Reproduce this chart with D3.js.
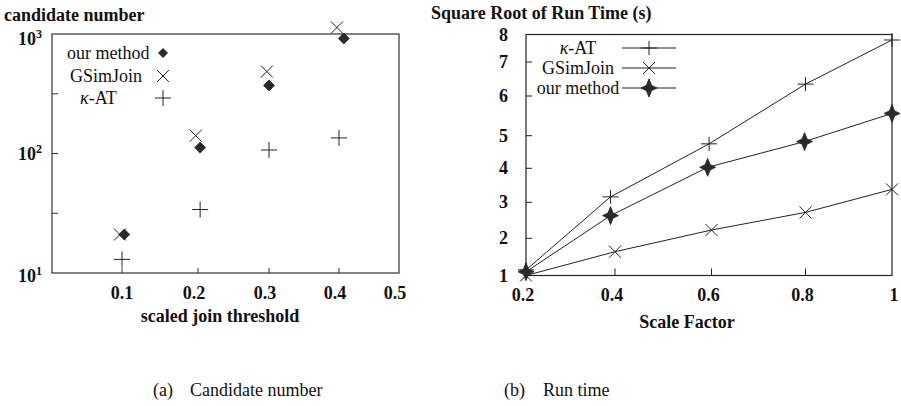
<!doctype html>
<html>
  <head>
    <meta charset="utf-8">
    <script src="https://cdn.jsdelivr.net/npm/d3@7"></script>
    <style>
      body { margin: 0; background: #fff; }
      text { font-family: "Liberation Serif", "Times New Roman", Times, serif; fill: #111; }
      .bold { font-weight: bold; }
    </style>
  </head>
  <body>
    <svg id="fig" width="901" height="406"></svg>

    <script>
      // (a) candidate number, log y axis
      var thresholdTicks = [0.1, 0.2, 0.3, 0.4, 0.5];
      var candTicks = [10, 100, 1000];
      var candMinorTicks = [31.6, 316];
      var ourX   = [0.103, 0.203, 0.3, 0.408];
      var ourCand  = [21, 112, 371, 917];
      var gsimX  = [0.097, 0.197, 0.297, 0.397];
      var gsimCand = [21, 141, 485, 1133];
      var katX   = [0.1, 0.203, 0.3, 0.4];
      var katCand  = [13, 34, 107, 135];

      // (b) run time
      var scaleFactors = [0.2, 0.4, 0.6, 0.8, 1];
      var timeTicks = [1, 2, 3, 4, 5, 6, 7, 8];
      var katTimeX  = [0.2, 0.39, 0.595, 0.8, 1];
      var katTime   = [1.15, 3.16, 4.75, 6.35, 7.8];
      var gsimTimeX = [0.2, 0.4, 0.6, 0.8, 1];
      var gsimTime  = [1.0, 1.64, 2.23, 2.72, 3.38];
      var ourTimeX  = [0.2, 0.39, 0.592, 0.798, 1];
      var ourTime   = [1.1, 2.63, 4.03, 4.82, 5.56];

      var svg = d3.select("#fig");

      // marker shapes
      var plusPath = function(w, h) {
        return "M" + (-w) + ",0H" + w + "M0," + (-h) + "V" + h;
      };
      var crossPath = function(r) {
        return "M" + (-r) + "," + (-r) + "L" + r + "," + r + "M" + (-r) + "," + r + "L" + r + "," + (-r);
      };
      var diamondPath = function(r) {
        return "M0," + (-r) + "L" + r + ",0L0," + r + "L" + (-r) + ",0Z";
      };
      var starPath = function(w, h, c) {
        return "M0," + (-h) + "L" + c + "," + (-c) + "L" + w + ",0L" + c + "," + c +
          "L0," + h + "L" + (-c) + "," + c + "L" + (-w) + ",0L" + (-c) + "," + (-c) + "Z";
      };

      function drawMarkers(g, xs, ys, x, y, d, filled) {
        g.selectAll(null)
          .data(ys)
          .enter()
          .append("path")
            .attr("transform", function(v, i) { return "translate(" + x(xs[i]) + "," + y(v) + ")"; })
            .attr("d", d)
            .attr("fill", filled ? "#2a2a2a" : "none")
            .attr("stroke", filled ? "#2a2a2a" : "#222")
            .attr("stroke-width", filled ? 0.8 : 1);
      }

      // ---------- chart (a) ----------
      var xA = d3.scaleLinear()
        .domain([0, 0.1, 0.2, 0.3, 0.4, 0.5])
        .range([52, 122, 198, 269, 339, 399]);
      var yA = d3.scaleLog().domain([10, 1000]).range([273, 34]);

      var gA = svg.append("g");

      gA.append("rect")
        .attr("x", xA(0)).attr("y", yA(1000))
        .attr("width", xA(0.5) - xA(0)).attr("height", yA(10) - yA(1000))
        .attr("fill", "none").attr("stroke", "#333").attr("stroke-width", 1.2);

      // inward ticks
      gA.selectAll(".yt")
        .data(candTicks.slice(1, 2).concat(candMinorTicks))
        .enter().append("line")
          .attr("x1", xA(0)).attr("x2", xA(0) + 6)
          .attr("y1", function(d) { return yA(d); }).attr("y2", function(d) { return yA(d); })
          .attr("stroke", "#333");
      gA.selectAll(".xt")
        .data(thresholdTicks.slice(0, 4))
        .enter().append("line")
          .attr("x1", function(d) { return xA(d); }).attr("x2", function(d) { return xA(d); })
          .attr("y1", yA(10)).attr("y2", yA(10) - 5)
          .attr("stroke", "#333");

      // y tick labels 10^n (top one pushed down under the title)
      var labDrop = [9, 6, 11];
      var yLab = gA.selectAll(".yl")
        .data(candTicks)
        .enter().append("text")
          .attr("class", "bold")
          .attr("text-anchor", "end")
          .attr("x", 42)
          .attr("y", function(d, i) { return yA(d) + labDrop[i]; })
          .style("font-size", "18px");
      yLab.append("tspan").text("10");
      yLab.append("tspan")
        .attr("dy", -7)
        .style("font-size", "12px")
        .text(function(d) { return String(Math.round(Math.log10(d))); });

      gA.selectAll(".xl")
        .data(thresholdTicks)
        .enter().append("text")
          .attr("class", "bold")
          .attr("text-anchor", "middle")
          .attr("x", function(d, i) { return xA(d) - (i === 0 ? 0 : 4); })
          .attr("y", 299)
          .style("font-size", "18px")
          .text(function(d) { return d3.format(".1f")(d); });

      gA.append("text").attr("class", "bold")
        .attr("x", 4).attr("y", 21).style("font-size", "18px")
        .text("candidate number");
      gA.append("text").attr("class", "bold")
        .attr("x", 220).attr("y", 322).attr("text-anchor", "middle").style("font-size", "18px")
        .text("scaled join threshold");

      drawMarkers(gA, gsimX, gsimCand, xA, yA, crossPath(6), false);
      drawMarkers(gA, katX, katCand, xA, yA, plusPath(8, 8), false);
      drawMarkers(gA, ourX, ourCand, xA, yA, diamondPath(5.5), true);

      // legend (a)
      var legA = [
        {label: "our method", x: 67, y: 53, d: diamondPath(4.5), filled: true},
        {label: "GSimJoin", x: 70, y: 76, d: crossPath(6), filled: false},
        {label: "-AT", kappa: true, x: 80, y: 98, d: plusPath(8, 8), filled: false}
      ];
      legA.forEach(function(l) {
        var t = gA.append("text").attr("x", l.x).attr("y", l.y + 6).style("font-size", "18px");
        if (l.kappa) t.append("tspan").style("font-style", "italic").text("κ");
        t.append("tspan").text(l.label);
        gA.append("path")
          .attr("transform", "translate(163," + l.y + ")")
          .attr("d", l.d)
          .attr("fill", l.filled ? "#2a2a2a" : "none")
          .attr("stroke", l.filled ? "#2a2a2a" : "#222");
      });

      // ---------- chart (b) ----------
      var xB = d3.scaleLinear()
        .domain(scaleFactors)
        .range([526, 615, 711.5, 805.5, 892]);
      var yB = d3.scaleLinear()
        .domain(timeTicks)
        .range([275.5, 238.3, 202.3, 168.3, 135.7, 96, 62, 34.5]);

      var gB = svg.append("g");

      gB.append("rect")
        .attr("x", xB(0.2)).attr("y", yB(8))
        .attr("width", xB(1) - xB(0.2)).attr("height", yB(1) - yB(8))
        .attr("fill", "none").attr("stroke", "#222").attr("stroke-width", 1.2);

      gB.selectAll(".yt")
        .data(timeTicks.slice(1, 7))
        .enter().append("line")
          .attr("x1", xB(0.2)).attr("x2", xB(0.2) + 6)
          .attr("y1", function(d) { return yB(d); }).attr("y2", function(d) { return yB(d); })
          .attr("stroke", "#222");
      gB.selectAll(".xt")
        .data(scaleFactors.slice(1, 4))
        .enter().append("line")
          .attr("x1", function(d) { return xB(d); }).attr("x2", function(d) { return xB(d); })
          .attr("y1", yB(1)).attr("y2", yB(1) - 7)
          .attr("stroke", "#222");

      gB.selectAll(".yl")
        .data(timeTicks)
        .enter().append("text")
          .attr("class", "bold")
          .attr("text-anchor", "end")
          .attr("x", 508)
          .attr("y", function(d) { return yB(d) + 6; })
          .style("font-size", "18px")
          .text(function(d) { return d; });
      gB.selectAll(".xl")
        .data(scaleFactors)
        .enter().append("text")
          .attr("class", "bold")
          .attr("text-anchor", "middle")
          .attr("x", function(d, i) { return xB(d) + (i === 4 ? 2 : -3); })
          .attr("y", 301)
          .style("font-size", "18px")
          .text(function(d) { return d === 1 ? "1" : d3.format(".1f")(d); });

      gB.append("text").attr("class", "bold")
        .attr("x", 431).attr("y", 19).style("font-size", "18px")
        .text("Square Root of Run Time (s)");
      gB.append("text").attr("class", "bold")
        .attr("x", 687).attr("y", 328).attr("text-anchor", "middle").style("font-size", "18px")
        .text("Scale Factor");

      var line = function(xs) {
        return d3.line()
          .x(function(v, i) { return xB(xs[i]); })
          .y(function(v) { return yB(v); });
      };
      [[katTimeX, katTime], [gsimTimeX, gsimTime], [ourTimeX, ourTime]].forEach(function(s) {
        gB.append("path")
          .attr("d", line(s[0])(s[1]))
          .attr("fill", "none")
          .attr("stroke", "#222")
          .attr("stroke-width", 1);
      });
      drawMarkers(gB, katTimeX, katTime, xB, yB, plusPath(8, 7), false);
      drawMarkers(gB, gsimTimeX, gsimTime, xB, yB, crossPath(6), false);
      drawMarkers(gB, ourTimeX, ourTime, xB, yB, starPath(8, 9, 2.6), true);

      // legend (b)
      var legB = [
        {label: "-AT", kappa: true, y: 48, d: plusPath(8, 7), filled: false},
        {label: "GSimJoin", y: 68, d: crossPath(6), filled: false},
        {label: "our method", y: 88, d: starPath(8, 9, 2.6), filled: true}
      ];
      legB.forEach(function(l) {
        var t = gB.append("text").attr("x", 578).attr("y", l.y + 6)
          .attr("text-anchor", "middle").style("font-size", "18px");
        if (l.kappa) t.append("tspan").style("font-style", "italic").text("κ");
        t.append("tspan").text(l.label);
        gB.append("line")
          .attr("x1", 622).attr("x2", 676).attr("y1", l.y).attr("y2", l.y)
          .attr("stroke", "#222");
        gB.append("path")
          .attr("transform", "translate(649," + l.y + ")")
          .attr("d", l.d)
          .attr("fill", l.filled ? "#2a2a2a" : "none")
          .attr("stroke", l.filled ? "#2a2a2a" : "#222");
      });

      // captions
      svg.append("text").attr("x", 153).attr("y", 396).style("font-size", "18px").text("(a)");
      svg.append("text").attr("x", 190).attr("y", 396).style("font-size", "18px").text("Candidate number");
      svg.append("text").attr("x", 504).attr("y", 396).style("font-size", "18px").text("(b)");
      svg.append("text").attr("x", 543).attr("y", 396).style("font-size", "18px").text("Run time");
    </script>
  </body>
</html>
